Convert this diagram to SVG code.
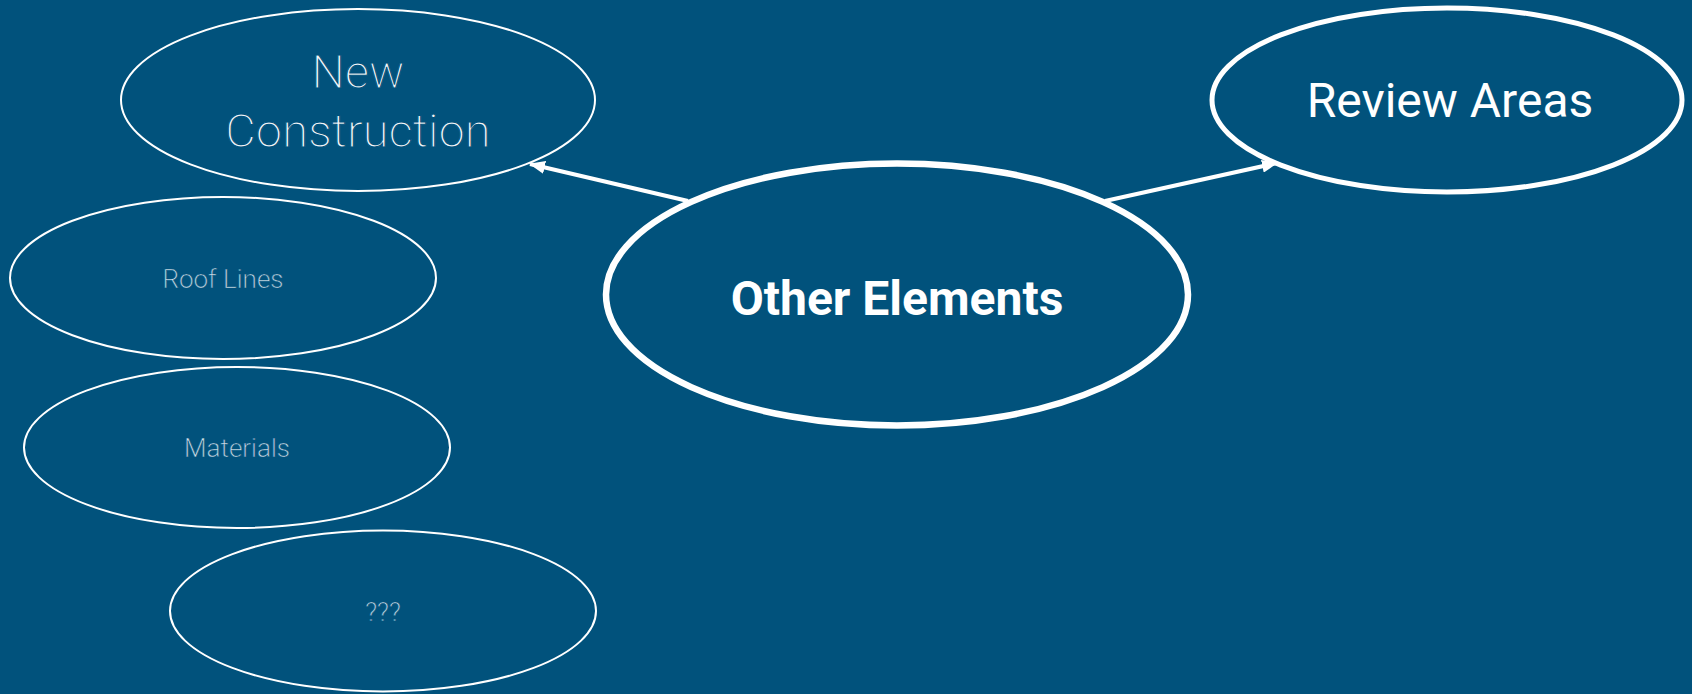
<svg xmlns="http://www.w3.org/2000/svg" width="1692" height="694" viewBox="0 0 1692 694">
<defs>
<style>
.bg{fill:#01527c}
.thin{fill:none;stroke:#ffffff;stroke-width:2}
.mid{fill:none;stroke:#ffffff;stroke-width:5}
.thick{fill:none;stroke:#ffffff;stroke-width:6.5}
.light{font-family:"Roboto Light",Roboto,"Liberation Sans",sans-serif;font-weight:300;text-anchor:middle;stroke:#01527c}
.big{font-size:47px;fill:#f2f6f9;stroke-width:1.1}
.small{font-size:26px;fill:#d4e2ec;stroke-width:0.5}
.reg{font-family:Roboto,"Liberation Sans",sans-serif;font-weight:400;font-size:48px;fill:#ffffff;text-anchor:middle}
.bold{font-family:Roboto,"Liberation Sans",sans-serif;font-weight:700;font-size:48px;fill:#ffffff;text-anchor:middle}
.conn{stroke:#ffffff;stroke-width:4;fill:none}
</style>
<marker id="arrow" markerUnits="userSpaceOnUse" markerWidth="16" markerHeight="13" refX="15" refY="6.5" orient="auto">
<path d="M0,0 L16,6.5 L0,13 z" fill="#ffffff"/>
</marker>
</defs>
<rect class="bg" x="0" y="0" width="1692" height="694"/>
<g id="connectors">
<line class="conn" x1="688" y1="201" x2="530" y2="164" marker-end="url(#arrow)"/>
<line class="conn" x1="1105" y1="201" x2="1277" y2="163" marker-end="url(#arrow)"/>
</g>
<g id="new-construction">
<ellipse class="thin" cx="358" cy="100" rx="237" ry="91"/>
<text class="light big" x="358" y="88">New</text>
<text class="light big" x="358" y="147">Construction</text>
</g>
<g id="roof-lines">
<ellipse class="thin" cx="223" cy="278" rx="213" ry="81"/>
<text class="light small" x="223" y="288">Roof Lines</text>
</g>
<g id="materials">
<ellipse class="thin" cx="237" cy="447.5" rx="213" ry="80.5"/>
<text class="light small" x="237" y="457">Materials</text>
</g>
<g id="unknown">
<ellipse class="thin" cx="383" cy="611" rx="213" ry="80.5"/>
<text class="light small" x="383" y="621">???</text>
</g>
<g id="other-elements">
<ellipse class="thick" cx="897" cy="294.5" rx="291" ry="131"/>
<text class="bold" x="897" y="315">Other Elements</text>
</g>
<g id="review-areas">
<ellipse class="mid" cx="1447" cy="100" rx="235" ry="92"/>
<text class="reg" x="1450" y="117">Review Areas</text>
</g>
</svg>
